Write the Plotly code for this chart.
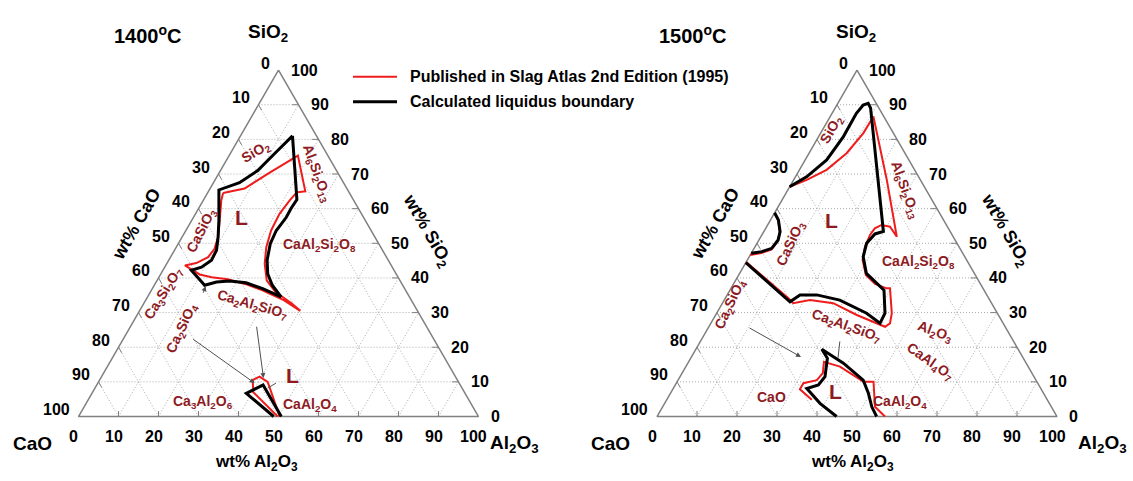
import numpy as np
import plotly.graph_objects as go

# ---------------------------------------------------------------------------
# CaO-SiO2-Al2O3 liquidus boundaries, wt%.  Each curve is given as SiO2 and
# Al2O3 lists; CaO is the balance (100 - SiO2 - Al2O3).
# ---------------------------------------------------------------------------

# 1400 C - calculated (black)
calc1400_main_sio2 = [81.0, 62.6, 60.2, 57.5, 53.7, 49.9, 45.1, 41.2, 37.9, 34.5, 36.9, 38.6,
                      39.1, 38.8, 37.9, 42.2, 43.1, 45.1, 48.0, 51.8, 56.6, 61.4, 65.4, 67.5,
                      71.0, 76.2, 81.0]
calc1400_main_al2o3 = [13.0, 23.3, 23.1, 23.2, 22.6, 23.0, 24.6, 26.7, 29.5, 33.4, 27.6, 22.6,
                       18.2, 15.1, 12.6, 7.1, 9.2, 10.7, 10.5, 9.0, 6.8, 4.4, 2.4, 6.5,
                       9.3, 11.2, 13.0]
calc1400_low_sio2 = [0.0, 6.7, 9.1, 0.0]
calc1400_low_al2o3 = [48.8, 38.6, 41.6, 50.7]

# 1400 C - Slag Atlas (red)
atlas1400_main_sio2 = [64.5, 65.8, 70.4, 75.3, 65.0, 64.7, 62.4, 58.5, 53.7, 48.9, 44.1, 39.3,
                       35.9, 32.7, 30.5, 33.6, 36.4, 38.2, 39.6, 40.2, 41.0, 43.6, 44.3, 46.0,
                       48.4, 51.8, 56.6, 62.4, 64.5]
atlas1400_main_al2o3 = [3.9, 8.6, 12.6, 17.2, 24.2, 22.2, 21.6, 21.0, 21.3, 22.5, 24.5, 27.4,
                        31.3, 36.9, 40.2, 34.5, 27.8, 22.7, 17.5, 13.2, 9.8, 4.8, 7.3, 9.4,
                        9.8, 9.0, 7.0, 4.5, 3.9]
atlas1400_low_sio2 = [0.0, 7.0, 10.5, 11.5, 10.0, 0.0]
atlas1400_low_al2o3 = [49.8, 40.2, 38.3, 39.5, 42.3, 50.3]

# 1500 C - calculated (black)
calc1500_main_sio2 = [66.3, 69.2, 74.05, 80.8, 87.5, 89.9, 90.4, 89.0, 53.4, 52.7, 50.0, 46.1,
                      41.3, 38.5, 36.5, 29.8, 26.9, 29.8, 33.6, 35.1, 35.1, 33.1, 44.4]
calc1500_main_al2o3 = [0.0, 2.8, 5.4, 6.2, 6.1, 6.6, 7.6, 8.9, 29.9, 28.15, 27.4, 28.5,
                       31.7, 35.7, 38.5, 42.1, 42.3, 37.5, 28.9, 22.4, 18.2, 16.7, 0.0]
calc1500_wol_sio2 = [58.8, 56.7, 53.35, 50.96, 48.55, 47.6, 47.1]
calc1500_wol_al2o3 = [0.0, 2.0, 4.1, 4.8, 4.4, 2.4, 0.0]
calc1500_low_sio2 = [0.0, 3.8, 8.1, 9.1, 11.5, 16.8, 19.4, 15.4, 10.5, 6.7, 2.8, 0.0]
calc1500_low_al2o3 = [44.9, 38.85, 33.4, 35.8, 36.25, 34.2, 31.5, 38.9, 46.3, 49.5, 52.3, 54.9]

# 1500 C - Slag Atlas (red)
atlas1500_main_sio2 = [66.3, 68.3, 71.2, 76.0, 81.8, 85.6, 86.6, 68.3, 51.9, 54.8, 55.3, 54.3,
                       52.4, 49.0, 45.2, 40.85, 38.25, 37.0, 37.0, 29.8, 26.9, 25.9, 29.3, 32.7,
                       33.6, 32.7, 33.8, 44.6]
atlas1500_main_al2o3 = [0.0, 3.3, 6.8, 9.4, 10.7, 10.9, 10.8, 23.3, 34.0, 30.85, 28.5, 27.3,
                        27.05, 27.5, 28.8, 31.8, 35.4, 38.9, 39.75, 43.8, 44.8, 44.05, 35.3, 27.7,
                        21.45, 17.7, 16.3, 0.0]
atlas1500_wol_sio2 = [58.8, 56.5, 53.0, 50.5, 48.2, 47.2, 46.6]
atlas1500_wol_al2o3 = [0.0, 2.1, 4.2, 4.9, 4.5, 2.5, 0.0]
atlas1500_low_sio2 = [4.8, 7.85, 9.6, 10.5, 12.5, 15.8, 15.4, 14.4, 10.05, 10.05, 2.8, 0.0]
atlas1500_low_al2o3 = [36.3, 31.8, 31.8, 34.7, 35.2, 33.85, 35.1, 38.55, 46.6, 49.1, 53.1, 57.0]

tick_values = list(range(0, 101, 10))

# ---------------------------------------------------------------------------
# styling / geometry
# ---------------------------------------------------------------------------
W, H = 1133, 481
SCALE = 4.0                      # pixels per wt%
RED = "#ee1c1c"
LABEL_RED = "#8e1b1f"
GRID = "#ababab"
FRAME = "#808080"
FONT = "Arial, Liberation Sans, sans-serif"
R3 = np.sqrt(3) / 2


def to_xy(sio2, al2o3):
    s = np.asarray(sio2, float)
    a = np.asarray(al2o3, float)
    return a + s / 2.0, s * R3


def seg_arrays(segments):
    xs, ys = [], []
    for (s0, a0), (s1, a1) in segments:
        x, y = to_xy([s0, s1], [a0, a1])
        xs += [x[0], x[1], None]
        ys += [y[0], y[1], None]
    return xs, ys


panels = [
    dict(xa="x", ya="y", domain=[0.0, 0.5], origin=(78.5, 416.5), title="1400<sup>o</sup>C",
         title_px=(112, 20), vtx_shift=dict(top=(-11, 37), left=(-46, -27), right=(36, -27)),
         xlabel_shift=-22,
         curves=[
             (atlas1400_main_sio2, atlas1400_main_al2o3, RED, 2),
             (atlas1400_low_sio2, atlas1400_low_al2o3, RED, 2),
             (calc1400_main_sio2, calc1400_main_al2o3, "black", 3),
             (calc1400_low_sio2, calc1400_low_al2o3, "black", 3),
         ],
         labels=[
             ("SiO<sub>2</sub>", 76.3, 6.3, -30, 14),
             ("Al<sub>6</sub>Si<sub>2</sub>O<sub>13</sub>", 70.3, 24.4, 70, 14),
             ("L", 57.5, 11.9, 0, 21),
             ("CaSiO<sub>3</sub>", 53.7, 4.1, -63, 14),
             ("CaAl<sub>2</sub>Si<sub>2</sub>O<sub>8</sub>", 49.4, 35.5, 0, 14),
             ("Ca<sub>3</sub>Si<sub>2</sub>O<sub>7</sub>", 35.5, 3.4, -58, 14),
             ("Ca<sub>2</sub>SiO<sub>4</sub>", 25.4, 13.0, -65, 14),
             ("Ca<sub>2</sub>Al<sub>2</sub>SiO<sub>7</sub>", 32.1, 27.5, 16, 14),
             ("L", 11.95, 47.6, 0, 21),
             ("Ca<sub>3</sub>Al<sub>2</sub>O<sub>6</sub>", 4.26, 29.0, 0, 14),
             ("CaAl<sub>2</sub>O<sub>4</sub>", 3.3, 56.1, 0, 14),
         ],
         arrows=[
             # (tail sio2, tail al2o3, head sio2, head al2o3, arrowhead)
             (22.6, 17.0, 9.65, 39.2, 2),
             (26.35, 31.3, 11.1, 40.7, 2),
             (35.3, 13.4, 37.6, 13.0, 2),
             (9.9, 44.8, 8.2, 43.2, 0),
         ]),
    dict(xa="x2", ya="y2", domain=[0.5, 1.0], origin=(657.0, 416.5), title="1500<sup>o</sup>C",
         title_px=(693, 20), vtx_shift=dict(top=(-1, 37), left=(-47, -27), right=(45, -27)),
         xlabel_shift=-5,
         curves=[
             (atlas1500_main_sio2, atlas1500_main_al2o3, RED, 2),
             (atlas1500_wol_sio2, atlas1500_wol_al2o3, RED, 2),
             (atlas1500_low_sio2, atlas1500_low_al2o3, RED, 2),
             (calc1500_main_sio2, calc1500_main_al2o3, "black", 3),
             (calc1500_wol_sio2, calc1500_wol_al2o3, "black", 3),
             (calc1500_low_sio2, calc1500_low_al2o3, "black", 3),
         ],
         labels=[
             ("SiO<sub>2</sub>", 82.7, 2.3, -60, 14),
             ("Al<sub>6</sub>Si<sub>2</sub>O<sub>13</sub>", 65.4, 29.3, 70, 14),
             ("L", 56.7, 15.3, 0, 21),
             ("CaSiO<sub>3</sub>", 50.0, 8.6, -65, 14),
             ("CaAl<sub>2</sub>Si<sub>2</sub>O<sub>8</sub>", 44.6, 42.95, 0, 14),
             ("Ca<sub>2</sub>SiO<sub>4</sub>", 32.2, 2.15, -65, 14),
             ("Ca<sub>2</sub>Al<sub>2</sub>SiO<sub>7</sub>", 26.1, 34.2, 20, 14),
             ("Al<sub>2</sub>O<sub>3</sub>", 24.4, 57.3, 20, 14),
             ("CaAl<sub>4</sub>O<sub>7</sub>", 15.7, 60.4, 35, 14),
             ("CaO", 5.7, 25.8, 0, 14),
             ("L", 7.2, 40.9, 0, 21),
             ("CaAl<sub>2</sub>O<sub>4</sub>", 4.3, 58.6, 0, 14),
         ],
         arrows=[
             (25.8, 9.85, 17.2, 27.4, 2),
             (22.1, 34.7, 16.9, 36.8, 0),
         ]),
]

fig = go.Figure()
annotations = []
layout_axes = {}


def font(size, color="black", bold=True):
    return dict(family=FONT, size=size, color=color, weight="bold" if bold else "normal")


for i, p in enumerate(panels):
    xa, ya = p["xa"], p["ya"]
    ox, oy = p["origin"]
    d0, d1 = p["domain"]
    xkey = "xaxis" if i == 0 else "xaxis2"
    ykey = "yaxis" if i == 0 else "yaxis2"
    layout_axes[xkey] = dict(domain=p["domain"], range=[(d0 * W - ox) / SCALE, (d1 * W - ox) / SCALE],
                             visible=False, fixedrange=True)
    layout_axes[ykey] = dict(domain=[0, 1], range=[-(H - oy) / SCALE, oy / SCALE],
                             visible=False, fixedrange=True)
    if i == 1:
        layout_axes[xkey]["anchor"] = "y2"
        layout_axes[ykey]["anchor"] = "x2"

    # dotted composition grid
    inner = [v for v in tick_values if 0 < v < 100]
    grid = []
    for v in inner:
        grid.append(((v, 0), (v, 100 - v)))          # SiO2 = v
        grid.append(((0, v), (100 - v, v)))          # Al2O3 = v
        grid.append(((0, 100 - v), (100 - v, 0)))    # CaO = v
    gx, gy = seg_arrays(grid)
    fig.add_trace(go.Scatter(x=gx, y=gy, xaxis=xa, yaxis=ya, mode="lines",
                             line=dict(color=GRID, width=1, dash="1px,2px"), hoverinfo="skip"))

    # short inward ticks
    tl = 1.6
    ticks = []
    for v in inner:
        ticks.append(((v, 100 - v), (v, 100 - v - tl)))               # right edge (SiO2)
        ticks.append(((100 - v, 0), (100 - v - tl, tl)))              # left edge (CaO)
        ticks.append(((0, v), (tl, v - tl / 2)))                      # bottom edge (Al2O3)
    tx, ty = seg_arrays(ticks)
    fig.add_trace(go.Scatter(x=tx, y=ty, xaxis=xa, yaxis=ya, mode="lines",
                             line=dict(color=FRAME, width=1), hoverinfo="skip"))

    # triangle frame
    fx, fy = to_xy([100, 0, 0, 100], [0, 0, 100, 0])
    fig.add_trace(go.Scatter(x=fx, y=fy, xaxis=xa, yaxis=ya, mode="lines",
                             line=dict(color=FRAME, width=1.5), hoverinfo="skip"))

    # liquidus boundaries
    for s, a, col, w in p["curves"]:
        cx, cy = to_xy(s, a)
        fig.add_trace(go.Scatter(x=cx, y=cy, xaxis=xa, yaxis=ya, mode="lines",
                                 line=dict(color=col, width=w), hoverinfo="skip"))

    def ann(s, a, text, **kw):
        x, y = to_xy([s], [a])
        d = dict(x=float(x[0]), y=float(y[0]), xref=xa, yref=ya, text=text, showarrow=False)
        d.update(kw)
        annotations.append(d)

    # tick labels
    for v in tick_values:
        ann(100 - v, 0, str(v), xanchor="right", yanchor="middle", xshift=-7, yshift=7, font=font(16))
        ann(v, 100 - v, str(v), xanchor="left", yanchor="middle", xshift=10, yshift=0, font=font(16))
        ann(0, v, str(v), xanchor="center", yanchor="middle", xshift=-5, yshift=-20, font=font(16))

    # corner names
    vs = p["vtx_shift"]
    ann(100, 0, "SiO<sub>2</sub>", xshift=vs["top"][0], yshift=vs["top"][1], font=font(19))
    ann(0, 0, "CaO", xshift=vs["left"][0], yshift=vs["left"][1], font=font(19))
    ann(0, 100, "Al<sub>2</sub>O<sub>3</sub>", xshift=vs["right"][0], yshift=vs["right"][1], font=font(19))

    # axis titles
    ann(0, 50, "wt% Al<sub>2</sub>O<sub>3</sub>", xshift=p["xlabel_shift"], yshift=-46, font=font(17))
    ann(50, 0, "wt% CaO", textangle=-60, xshift=-42, yshift=19, font=font(18))
    ann(50, 50, "wt% SiO<sub>2</sub>", textangle=60, xshift=48, yshift=13, font=font(18))

    # phase-field labels
    for text, s, a, ang, size in p["labels"]:
        ann(s, a, text, textangle=ang, font=font(size, LABEL_RED))

    # leader lines / arrows
    for ts, ta, hs, ha, head in p["arrows"]:
        hx, hy = to_xy([hs], [ha])
        txx, tyy = to_xy([ts], [ta])
        annotations.append(dict(x=float(hx[0]), y=float(hy[0]), ax=float(txx[0]), ay=float(tyy[0]),
                                xref=xa, yref=ya, axref=xa, ayref=ya, text="", showarrow=True,
                                arrowhead=head, arrowsize=1, arrowwidth=1, arrowcolor="#505050",
                                standoff=0, startstandoff=0))

    # temperature title
    annotations.append(dict(x=p["title_px"][0] / W, y=1 - p["title_px"][1] / H, xref="paper", yref="paper",
                            text=p["title"], showarrow=False, font=font(20)))

# legend drawn in the gap between the two diagrams
legend_items = [("Published in Slag Atlas 2nd Edition (1995)", RED, 2, 76.7),
                ("Calculated liquidus boundary", "black", 3, 101.7)]
shapes = []
for text, col, w, py in legend_items:
    shapes.append(dict(type="line", xref="paper", yref="paper", x0=353 / W, x1=397 / W,
                       y0=1 - py / H, y1=1 - py / H, line=dict(color=col, width=w)))
    annotations.append(dict(x=408 / W, y=1 - py / H, xref="paper", yref="paper", text=text,
                            showarrow=False, xanchor="left", yanchor="middle", font=font(16)))

fig.update_layout(
    width=W, height=H, margin=dict(l=0, r=0, t=0, b=0),
    paper_bgcolor="white", plot_bgcolor="white", showlegend=False,
    annotations=annotations, shapes=shapes, **layout_axes,
)

fig.write_html("out.html")
